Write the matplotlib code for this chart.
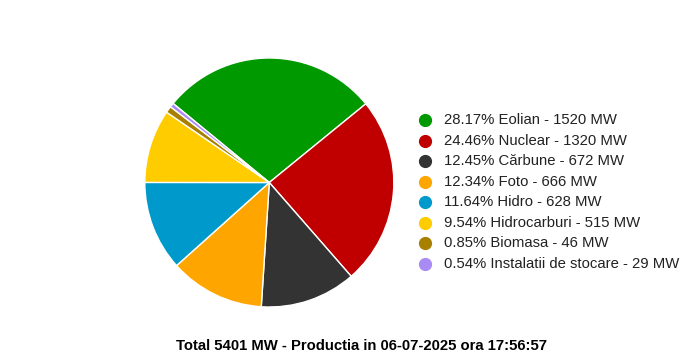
import matplotlib
matplotlib.use("Agg")
import matplotlib.pyplot as plt

# production by source, MW
sources = ["Eolian", "Nuclear", "Cărbune", "Foto", "Hidro", "Hidrocarburi",
           "Biomasa", "Instalatii de stocare"]
mw = [1520, 1320, 672, 666, 628, 515, 46, 29]
colors = ["#009900", "#c00000", "#333333", "#ffa500", "#0099cc", "#ffcc00",
          "#a88000", "#a98bf5"]
title = "Total 5401 MW - Productia in 06-07-2025 ora 17:56:57"

W, H = 697, 364
plt.rcParams["font.family"] = ["Liberation Sans", "DejaVu Sans"]
fig = plt.figure(figsize=(W / 100, H / 100), dpi=100)

# pie placed by pixel center / radius
cx, cy, r = 269.3, 182.5, 124.5
ax = fig.add_axes([(cx - r) / W, (H - cy - r) / H, 2 * r / W, 2 * r / H])
ax.pie(mw, colors=colors, startangle=140.6, counterclock=False,
       wedgeprops=dict(edgecolor="white", linewidth=1))
ax.set_xlim(-1, 1)
ax.set_ylim(-1, 1)
ax.set_aspect("equal")
ax.axis("off")

# legend drawn row by row
total = sum(mw)
x_mark, x_text, y0, dy = 425, 444, 120.5, 20.45
for i, (name, v, c) in enumerate(zip(sources, mw, colors)):
    y = 1 - (y0 + i * dy) / H
    fig.lines.append(plt.Line2D([x_mark / W], [y], marker="o", markersize=8.5,
                                color=c, transform=fig.transFigure))
    fig.text(x_text / W, y, f"{100 * v / total:.2f}% {name} - {v} MW",
             fontsize=10.7, va="center", ha="left", color="#222222")

fig.text(362 / W, 1 - 345.5 / H, title, fontsize=10.7, fontweight="bold",
         ha="center", va="center", color="black")

fig.savefig("out.png", dpi=100)
